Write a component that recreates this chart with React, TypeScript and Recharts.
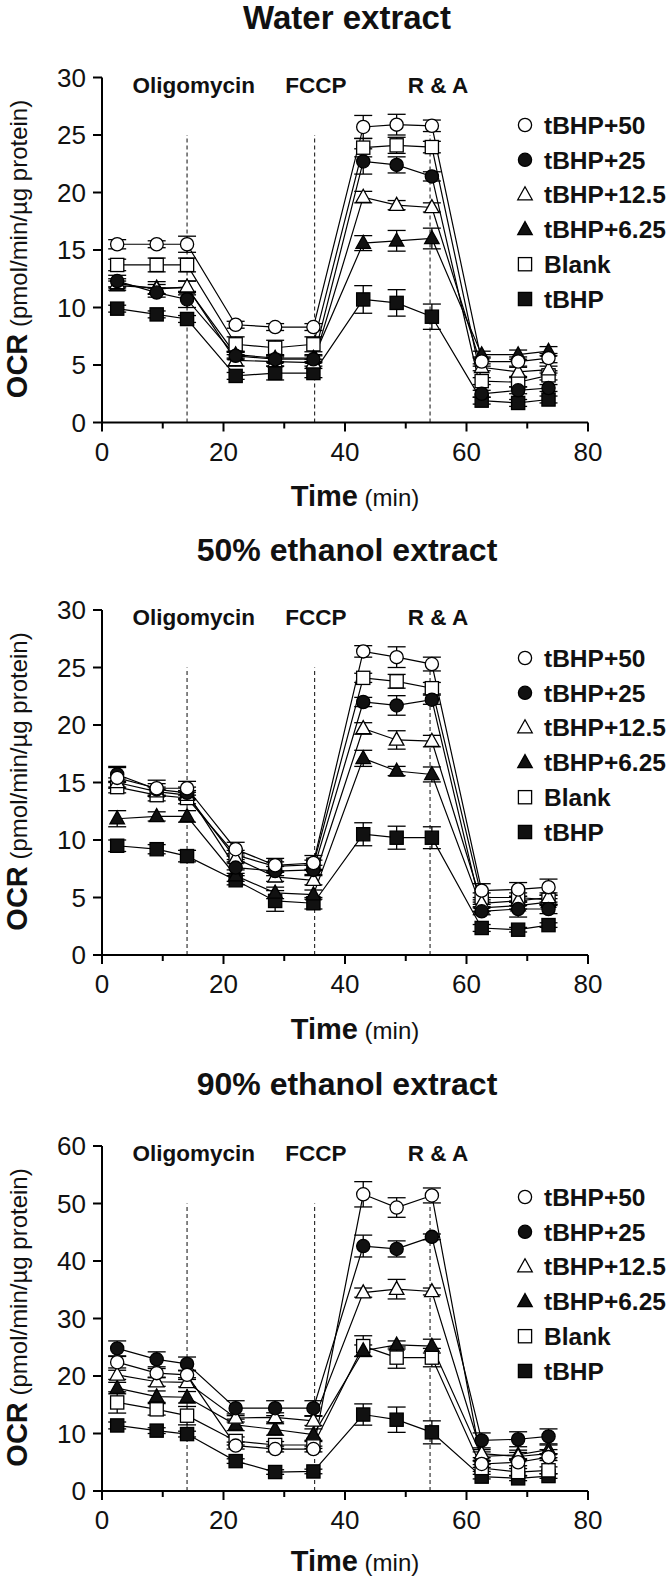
import React from 'react';
import { LineChart, Line, XAxis, YAxis, ErrorBar, ReferenceLine, ReferenceDot, Customized } from 'recharts';

const FONT = '"Liberation Sans", Arial, Helvetica, sans-serif';

// ---------- data ----------
const TIME = [2.5, 9, 14, 22, 28.5, 34.8, 43, 48.5, 54.3, 62.5, 68.5, 73.5];
const SERIES_NAMES = ['tBHP+50', 'tBHP+25', 'tBHP+12.5', 'tBHP+6.25', 'Blank', 'tBHP'];
const SHAPES = ['circleOpen', 'circleFilled', 'triOpen', 'triFilled', 'squareOpen', 'squareFilled'];
const INJECTIONS = ['Oligomycin', 'FCCP', 'R & A'];
const INJECTION_TIMES = [14, 35, 54];
const INJECTION_LABEL_T = [15.1, 35.2, 55.3];
const X_TICKS = [0, 10, 20, 30, 40, 50, 60, 70, 80];
const PANEL_TITLES = ['Water extract', '50% ethanol extract', '90% ethanol extract'];

// Water extract
const W_50 = [15.5, 15.5, 15.5, 8.5, 8.3, 8.3, 25.7, 25.9, 25.8, 5.3, 5.3, 5.6];
const W_50E = [0.4, 0.3, 0.7, 0.3, 0.3, 0.3, 1.0, 0.9, 0.5, 0.4, 0.4, 0.4];
const W_25 = [12.3, 11.3, 10.7, 5.8, 5.5, 5.5, 22.7, 22.4, 21.4, 2.5, 2.8, 3.0];
const W_25E = [0.5, 0.4, 0.7, 0.3, 0.3, 0.3, 1.1, 0.7, 0.4, 0.3, 0.3, 0.3];
const W_12 = [12.1, 11.6, 11.8, 5.4, 5.3, 5.2, 19.6, 18.9, 18.7, 4.8, 4.4, 4.6];
const W_12E = [0.4, 0.4, 0.5, 0.5, 0.4, 0.3, 0.5, 0.4, 0.4, 0.3, 0.4, 0.3];
const W_6 = [11.9, 11.7, 11.7, 5.9, 5.6, 5.6, 15.6, 15.8, 16.0, 5.9, 5.9, 6.2];
const W_6E = [0.4, 0.55, 0.6, 0.3, 0.3, 0.3, 0.65, 0.9, 0.9, 0.3, 0.4, 0.4];
const W_BL = [13.7, 13.7, 13.7, 6.8, 6.5, 6.8, 23.9, 24.1, 23.95, 3.6, 3.5, 4.1];
const W_BLE = [0.5, 0.6, 0.6, 0.65, 0.65, 0.65, 0.8, 0.7, 0.5, 0.3, 0.4, 0.4];
const W_T = [9.9, 9.4, 9.0, 4.05, 4.3, 4.3, 10.7, 10.4, 9.2, 1.9, 1.7, 2.0];
const W_TE = [0.3, 0.3, 0.3, 0.3, 0.6, 0.4, 1.2, 1.15, 1.1, 0.3, 0.3, 0.3];

// 50% ethanol extract
const E5_50 = [15.4, 14.5, 14.5, 9.2, 7.8, 8.0, 26.4, 25.9, 25.3, 5.6, 5.7, 5.9];
const E5_50E = [0.9, 0.7, 0.6, 0.6, 0.6, 0.65, 0.5, 0.9, 0.6, 0.6, 0.6, 0.7];
const E5_25 = [15.7, 14.4, 14.1, 7.6, 7.3, 7.4, 22.0, 21.7, 22.2, 3.8, 4.0, 4.0];
const E5_25E = [0.7, 0.5, 0.5, 0.5, 0.4, 0.4, 0.4, 0.85, 0.4, 0.3, 0.7, 0.4];
const E5_12 = [15.0, 14.2, 13.9, 8.4, 6.8, 6.5, 19.7, 18.7, 18.6, 4.5, 4.7, 5.0];
const E5_12E = [0.4, 0.4, 0.4, 0.4, 0.4, 0.4, 0.5, 0.8, 0.5, 0.3, 0.4, 0.4];
const E5_6 = [11.85, 12.05, 12.05, 6.9, 5.4, 5.25, 17.1, 16.0, 15.7, 4.1, 4.3, 4.6];
const E5_6E = [0.7, 0.4, 0.5, 0.5, 0.5, 0.4, 0.7, 0.4, 0.65, 0.3, 0.3, 0.3];
const E5_BL = [14.6, 13.9, 13.65, 8.7, 7.7, 7.85, 24.1, 23.8, 23.2, 5.0, 5.0, 4.8];
const E5_BLE = [0.5, 0.5, 0.5, 0.4, 0.4, 0.4, 0.4, 0.6, 0.5, 0.4, 0.4, 0.4];
const E5_T = [9.5, 9.2, 8.6, 6.5, 4.7, 4.5, 10.5, 10.2, 10.2, 2.35, 2.2, 2.6];
const E5_TE = [0.5, 0.4, 0.5, 0.4, 0.9, 0.5, 1.0, 1.0, 0.95, 0.3, 0.2, 0.2];

// 90% ethanol extract
const E9_50 = [22.4, 20.5, 20.2, 7.9, 7.3, 7.3, 51.6, 49.3, 51.4, 4.7, 5.0, 5.9];
const E9_50E = [1.0, 0.8, 0.8, 0.6, 0.5, 0.5, 2.2, 1.7, 1.3, 0.6, 0.6, 0.6];
const E9_25 = [24.8, 22.9, 22.1, 14.4, 14.4, 14.4, 42.6, 42.1, 44.2, 8.8, 9.0, 9.5];
const E9_25E = [1.3, 1.3, 1.2, 1.3, 1.3, 1.3, 1.9, 1.4, 0.5, 1.3, 1.3, 1.3];
const E9_12 = [20.2, 19.0, 18.9, 12.7, 12.8, 12.2, 34.5, 35.1, 34.7, 6.5, 6.0, 6.5];
const E9_12E = [0.8, 0.8, 0.8, 0.7, 0.8, 0.8, 0.8, 1.7, 0.6, 0.7, 0.7, 0.7];
const E9_6 = [17.9, 16.4, 16.3, 11.5, 10.7, 9.8, 24.4, 25.4, 25.2, 6.0, 6.3, 7.2];
const E9_6E = [1.0, 1.0, 1.0, 1.0, 1.0, 1.0, 1.0, 0.7, 1.2, 0.8, 0.8, 0.8];
const E9_BL = [15.4, 14.2, 13.1, 8.7, 8.0, 8.0, 25.2, 23.2, 23.2, 4.0, 3.3, 3.6];
const E9_BLE = [1.85, 1.0, 1.6, 0.7, 0.6, 0.6, 1.8, 1.85, 1.6, 0.6, 0.6, 0.6];
const E9_T = [11.4, 10.5, 9.9, 5.2, 3.3, 3.4, 13.3, 12.4, 10.2, 2.5, 2.2, 2.6];
const E9_TE = [0.6, 0.5, 0.5, 0.4, 0.4, 0.4, 1.85, 2.2, 2.0, 0.4, 0.4, 0.4];

// ---------- layout ----------
const PANELS = [
  {
    title: PANEL_TITLES[0],
    values: [W_50, W_25, W_12, W_6, W_BL, W_T],
    errors: [W_50E, W_25E, W_12E, W_6E, W_BLE, W_TE],
    yMax: 30, yTicks: [0, 5, 10, 15, 20, 25, 30], dashTop: 25,
    top: 0, height: 530, plotTop: 77.5, plotBottom: 422.5, titleY: 17, titleSize: 33, legendY: 125, timeOff: 75,
  },
  {
    title: PANEL_TITLES[1],
    values: [E5_50, E5_25, E5_12, E5_6, E5_BL, E5_T],
    errors: [E5_50E, E5_25E, E5_12E, E5_6E, E5_BLE, E5_TE],
    yMax: 30, yTicks: [0, 5, 10, 15, 20, 25, 30], dashTop: 25,
    top: 530, height: 530, plotTop: 80, plotBottom: 425, titleY: 19, titleSize: 32, legendY: 128, timeOff: 75,
  },
  {
    title: PANEL_TITLES[2],
    values: [E9_50, E9_25, E9_12, E9_6, E9_BL, E9_T],
    errors: [E9_50E, E9_25E, E9_12E, E9_6E, E9_BLE, E9_TE],
    yMax: 60, yTicks: [0, 10, 20, 30, 40, 50, 60], dashTop: 50,
    top: 1060, height: 518, plotTop: 86, plotBottom: 431, titleY: 23, titleSize: 32, legendY: 137, timeOff: 71,
  },
];

function Marker({ shape, cx, cy, s = 1 }: any) {
  if (cx == null || cy == null) return null;
  const sw = 1.3;
  const r = 6.6 * s;
  const half = 6.6 * s;
  const w = 14.5 * s;
  const h = 13 * s;
  switch (shape) {
    case 'circleOpen':
      return <circle cx={cx} cy={cy} r={r} fill="#fff" stroke="#000" strokeWidth={sw} />;
    case 'circleFilled':
      return <circle cx={cx} cy={cy} r={r} fill="#111" stroke="#000" strokeWidth={sw} />;
    case 'triOpen':
    case 'triFilled': {
      const pts = `${cx},${cy - h * 0.6} ${cx - w / 2},${cy + h * 0.4} ${cx + w / 2},${cy + h * 0.4}`;
      return <polygon points={pts} fill={shape === 'triOpen' ? '#fff' : '#111'} stroke="#000" strokeWidth={sw} strokeLinejoin="miter" />;
    }
    case 'squareOpen':
    case 'squareFilled':
      return <rect x={cx - half} y={cy - half} width={half * 2} height={half * 2} fill={shape === 'squareOpen' ? '#fff' : '#111'} stroke="#000" strokeWidth={sw} />;
    default:
      return null;
  }
}

const XTick = (props: any) => {
  const { x, y, payload } = props;
  const v = payload.value;
  const major = v % 20 === 0;
  return (
    <g>
      <line x1={x} x2={x} y1={y} y2={y + (major ? 9 : 6)} stroke="#000" strokeWidth={2} />
      {major && (
        <text x={x} y={y + 29} dy="0.36em" textAnchor="middle" fontSize={26} fontFamily={FONT} fill="#111">
          {v}
        </text>
      )}
    </g>
  );
};

const YTick = (props: any) => {
  const { x, y, payload } = props;
  return (
    <g>
      <line x1={x - 9} x2={x} y1={y} y2={y} stroke="#000" strokeWidth={2} />
      <text x={x - 16} y={y} dy="0.36em" textAnchor="end" fontSize={26} fontFamily={FONT} fill="#111">
        {payload.value}
      </text>
    </g>
  );
};

function Panel({ p }: any) {
  const data = TIME.map((t, i) => {
    const row: any = { t };
    SERIES_NAMES.forEach((_, j) => {
      row['v' + j] = p.values[j][i];
      row['e' + j] = p.errors[j][i];
    });
    return row;
  });
  const order = [5, 4, 3, 2, 1, 0];
  const plotMid = (p.plotTop + p.plotBottom) / 2;

  const Decor = () => (
    <g fontFamily={FONT} fill="#111">
      <text x={347} y={p.titleY} dy="0.36em" textAnchor="middle" fontSize={p.titleSize} fontWeight="bold">
        {p.title}
      </text>
      <text transform={`translate(27, ${plotMid - 1}) rotate(-90)`} textAnchor="middle" fontSize={24}>
        <tspan fontWeight="bold" fontSize={29}>OCR</tspan>
        <tspan fontSize={24}> (pmol/min/µg protein)</tspan>
      </text>
      <text x={355} y={p.plotBottom + p.timeOff} textAnchor="middle" dy="0.36em" fontSize={24}>
        <tspan fontWeight="bold" fontSize={29}>Time</tspan>
        <tspan fontSize={24}> (min)</tspan>
      </text>
      {SERIES_NAMES.map((n, j) => {
        const cy = p.legendY + j * 34.8;
        return (
          <g key={n}>
            <Marker shape={SHAPES[j]} cx={525} cy={cy} s={1} />
            <text x={544} y={cy} dy="0.36em" fontSize={24.5} fontWeight="bold">
              {n}
            </text>
          </g>
        );
      })}
    </g>
  );

  return (
    <div style={{ position: 'absolute', left: 0, top: p.top, width: 669, height: p.height }}>
      <LineChart
        width={669}
        height={p.height}
        data={data}
        margin={{ top: p.plotTop, right: 81, bottom: 0, left: 22 }}
      >
        <XAxis
          dataKey="t"
          type="number"
          domain={[0, 80]}
          ticks={X_TICKS}
          interval={0}
          tickSize={0}
          tickMargin={0}
          tick={(tp: any) => <XTick {...tp} />}
          axisLine={{ stroke: '#000', strokeWidth: 2 }}
          height={p.height - p.plotBottom}
        />
        <YAxis
          type="number"
          domain={[0, p.yMax]}
          ticks={p.yTicks}
          interval={0}
          width={80}
          tickSize={0}
          tickMargin={0}
          tick={(tp: any) => <YTick {...tp} />}
          axisLine={{ stroke: '#000', strokeWidth: 2 }}
        />
        {INJECTION_TIMES.map((t) => (
          <ReferenceLine
            key={'d' + t}
            segment={[{ x: t, y: 0 }, { x: t, y: p.dashTop }]}
            stroke="#222"
            strokeWidth={1.1}
            strokeDasharray="4 3"
          />
        ))}
        {INJECTIONS.map((name, k) => (
          <ReferenceDot
            key={name}
            x={INJECTION_LABEL_T[k]}
            y={p.yMax * 0.979}
            r={0}
            shape={(sp: any) => (
              <text x={sp.cx} y={sp.cy} dy="0.36em" textAnchor="middle" fontSize={22.5} fontWeight="bold" fontFamily={FONT} fill="#111">
                {name}
              </text>
            )}
          />
        ))}
        {order.map((j) => (
          <Line
            key={j}
            dataKey={'v' + j}
            name={SERIES_NAMES[j]}
            stroke="#000"
            strokeWidth={1.2}
            isAnimationActive={false}
            activeDot={false}
            dot={(dp: any) => <Marker key={dp.index} shape={SHAPES[j]} cx={dp.cx} cy={dp.cy} />}
          >
            <ErrorBar dataKey={'e' + j} width={9} stroke="#000" strokeWidth={1.3} direction="y" />
          </Line>
        ))}
        <Customized component={Decor} />
      </LineChart>
    </div>
  );
}

export default function App() {
  return (
    <div style={{ position: 'absolute', left: 0, top: 0, width: 669, height: 1578, background: '#fff', overflow: 'hidden' }}>
      {PANELS.map((p, i) => (
        <Panel key={i} p={p} />
      ))}
    </div>
  );
}
